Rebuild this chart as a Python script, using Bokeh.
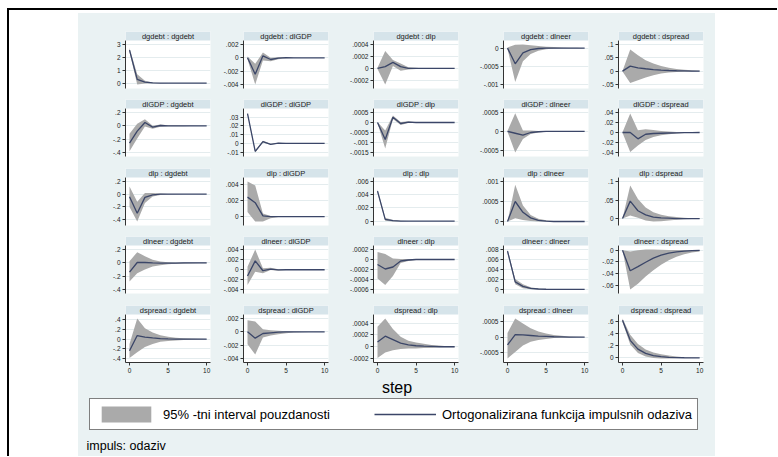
from bokeh.plotting import figure
from bokeh.layouts import row, column
from bokeh.models import Range1d, FixedTicker, BoxAnnotation, Label, Legend, LegendItem, Spacer
from bokeh.embed import file_html
from bokeh.resources import INLINE

# ---------------- data ----------------
steps = [0, 1, 2, 3, 4, 5, 6, 7, 8, 9, 10]
variables = ["dgdebt", "dlGDP", "dlp", "dlneer", "dspread"]
x_ticks = [0, 5, 10]
x_tick_labels = ["0", "5", "10"]

# impulse dgdebt
irf_dgdebt_dgdebt = [2.57, 0.30, 0.08, 0.02, 0.005, 0.001, 0, 0, 0, 0, 0]
lo_dgdebt_dgdebt = [2.42, -0.10, -0.03, -0.01, -0.004, -0.001, 0, 0, 0, 0, 0]
hi_dgdebt_dgdebt = [2.72, 0.70, 0.20, 0.06, 0.02, 0.005, 0.001, 0, 0, 0, 0]
yt_dgdebt_dgdebt = [0, 1, 2, 3]
yl_dgdebt_dgdebt = ["0", "1", "2", "3"]

irf_dgdebt_dlGDP = [0, -0.00245, 0.0003, -0.00025, -0.00005, 0.00002, 0, 0, 0, 0, 0]
lo_dgdebt_dlGDP = [-0.0002, -0.0040, -0.0004, -0.0005, -0.0002, -0.00005, -0.00002, 0, 0, 0, 0]
hi_dgdebt_dlGDP = [0.0002, -0.0009, 0.0008, 0.0, 0.0001, 0.00008, 0.00002, 0, 0, 0, 0]
yt_dgdebt_dlGDP = [-0.004, -0.002, 0, 0.002]
yl_dgdebt_dlGDP = ["-.004", "-.002", "0", ".002"]

irf_dgdebt_dlp = [0, 0.00003, 0.0001, 0.00003, 0.0, 0, 0, 0, 0, 0, 0]
lo_dgdebt_dlp = [-0.00001, -0.00027, 0.00004, -0.00004, -0.00002, -0.00001, 0, 0, 0, 0, 0]
hi_dgdebt_dlp = [0.00001, 0.00029, 0.00014, 0.00008, 0.00002, 0.00001, 0, 0, 0, 0, 0]
yt_dgdebt_dlp = [-0.0002, 0, 0.0002, 0.0004]
yl_dgdebt_dlp = ["-.0002", "0", ".0002", ".0004"]

irf_dgdebt_dlneer = [0, -0.00043, -0.00013, -0.00004, -0.00001, 0, 0, 0, 0, 0, 0]
lo_dgdebt_dlneer = [-0.00002, -0.00093, -0.00036, -0.00016, -0.00007, -0.00003, -0.00001, 0, 0, 0, 0]
hi_dgdebt_dlneer = [0.00002, 0.00009, 0.0001, 0.00008, 0.00006, 0.00004, 0.00003, 0.00002, 0.00001, 0.00001, 0]
yt_dgdebt_dlneer = [-0.001, -0.0005, 0]
yl_dgdebt_dlneer = ["-.001", "-.0005", "0"]

irf_dgdebt_dspread = [0, 0.019, 0.0125, 0.009, 0.006, 0.004, 0.0025, 0.0015, 0.001, 0.0005, 0.0002]
lo_dgdebt_dspread = [-0.001, -0.044, -0.034, -0.024, -0.015, -0.009, -0.005, -0.003, -0.002, -0.001, -0.0005]
hi_dgdebt_dspread = [0.001, 0.081, 0.060, 0.041, 0.029, 0.019, 0.0125, 0.008, 0.005, 0.003, 0.002]
yt_dgdebt_dspread = [-0.05, 0, 0.05, 0.1]
yl_dgdebt_dspread = ["-.05", "0", ".05", ".1"]

# impulse dlGDP
irf_dlGDP_dgdebt = [-0.26, -0.08, 0.05, -0.02, 0.005, 0.0, 0, 0, 0, 0, 0]
lo_dlGDP_dgdebt = [-0.38, -0.19, -0.01, -0.045, -0.012, -0.008, -0.006, -0.005, -0.004, -0.002, -0.001]
hi_dlGDP_dgdebt = [-0.12, 0.03, 0.10, 0.0, 0.02, 0.01, 0.007, 0.005, 0.004, 0.002, 0.001]
yt_dlGDP_dgdebt = [-0.4, -0.2, 0, 0.2]
yl_dlGDP_dgdebt = ["-.4", "-.2", "0", ".2"]

irf_dlGDP_dlGDP = [0.034, -0.0093, 0.0019, -0.0011, 0.0002, 0, 0, 0, 0, 0, 0]
lo_dlGDP_dlGDP = [0.0328, -0.0105, 0.0010, -0.0017, -0.0002, -0.0001, 0, 0, 0, 0, 0]
hi_dlGDP_dlGDP = [0.0352, -0.0081, 0.0028, -0.0005, 0.0006, 0.0001, 0, 0, 0, 0, 0]
yt_dlGDP_dlGDP = [-0.01, 0, 0.01, 0.02, 0.03]
yl_dlGDP_dlGDP = ["-.01", "0", ".01", ".02", ".03"]

irf_dlGDP_dlp = [0, -0.00085, 0.00026, -0.00005, 0.00002, 0, 0, 0, 0, 0, 0]
lo_dlGDP_dlp = [-0.00003, -0.0013, 0.00017, -0.00012, -0.00002, -0.00001, 0, 0, 0, 0, 0]
hi_dlGDP_dlp = [0.00003, -0.0004, 0.00035, 0.00002, 0.00006, 0.00001, 0, 0, 0, 0, 0]
yt_dlGDP_dlp = [-0.0015, -0.001, -0.0005, 0, 0.0005]
yl_dlGDP_dlp = ["-.0015", "-.001", "-.0005", "0", ".0005"]

irf_dlGDP_dlneer = [0, -0.00005, -0.0001, -0.00003, -0.00001, 0, 0, 0, 0, 0, 0]
lo_dlGDP_dlneer = [-0.00001, -0.00056, -0.0002, -0.00007, -0.00003, -0.00001, 0, 0, 0, 0, 0]
hi_dlGDP_dlneer = [0.00001, 0.00048, 0.00002, 0.00002, 0.00001, 0.00001, 0, 0, 0, 0, 0]
yt_dlGDP_dlneer = [-0.0005, 0, 0.0005]
yl_dlGDP_dlneer = ["-.0005", "0", ".0005"]

irf_dlGDP_dspread = [0, 0.0, -0.0127, -0.0035, -0.002, -0.0015, -0.001, -0.0006, -0.0003, -0.0001, 0]
lo_dlGDP_dspread = [-0.0005, -0.039, -0.026, -0.015, -0.009, -0.0055, -0.0035, -0.002, -0.0012, -0.0006, -0.0003]
hi_dlGDP_dspread = [0.0005, 0.038, 0.0045, 0.0065, 0.005, 0.003, 0.002, 0.0012, 0.0007, 0.0004, 0.0002]
yt_dlGDP_dspread = [-0.04, -0.02, 0, 0.02, 0.04]
yl_dlGDP_dspread = ["-.04", "-.02", "0", ".02", ".04"]

# impulse dlp
irf_dlp_dgdebt = [-0.04, -0.30, -0.05, -0.01, 0.0, 0, 0, 0, 0, 0, 0]
lo_dlp_dgdebt = [-0.20, -0.43, -0.14, -0.035, -0.012, -0.005, -0.002, 0, 0, 0, 0]
hi_dlp_dgdebt = [0.12, -0.12, 0.02, 0.02, 0.01, 0.005, 0.002, 0, 0, 0, 0]
yt_dlp_dgdebt = [-0.4, -0.2, 0, 0.2]
yl_dlp_dgdebt = ["-.4", "-.2", "0", ".2"]

irf_dlp_dlGDP = [0.00245, 0.00175, 0.0001, 0.0, 0, 0, 0, 0, 0, 0, 0]
lo_dlp_dlGDP = [0.0006, -0.0006, -0.0006, -0.0002, -0.00005, 0, 0, 0, 0, 0, 0]
hi_dlp_dlGDP = [0.0044, 0.0039, 0.0004, 0.0001, 0.00005, 0, 0, 0, 0, 0, 0]
yt_dlp_dlGDP = [0, 0.002, 0.004]
yl_dlp_dlGDP = ["0", ".002", ".004"]

irf_dlp_dlp = [0.00453, 0.00025, 0.00005, 0, 0, 0, 0, 0, 0, 0, 0]
lo_dlp_dlp = [0.0043, 0.00005, -0.00007, -0.00002, 0, 0, 0, 0, 0, 0, 0]
hi_dlp_dlp = [0.0048, 0.0005, 0.00015, 0.00003, 0, 0, 0, 0, 0, 0, 0]
yt_dlp_dlp = [0, 0.002, 0.004, 0.006]
yl_dlp_dlp = ["0", ".002", ".004", ".006"]

irf_dlp_dlneer = [0, 0.0005, 0.00023, 0.00009, 0.00003, 0.00001, 0, 0, 0, 0, 0]
lo_dlp_dlneer = [0, 0.00008, 0.00004, 0.00001, 0.0, 0, 0, 0, 0, 0, 0]
hi_dlp_dlneer = [0, 0.00092, 0.0004, 0.00016, 0.00007, 0.00003, 0.00001, 0, 0, 0, 0]
yt_dlp_dlneer = [0, 0.0005, 0.001]
yl_dlp_dlneer = ["0", ".0005", ".001"]

irf_dlp_dspread = [0, 0.047, 0.021, 0.01, 0.004, 0.002, 0.001, 0.0, 0, 0, 0]
lo_dlp_dspread = [0, 0.008, 0.002, -0.005, -0.008, -0.007, -0.005, -0.003, -0.002, -0.001, -0.0005]
hi_dlp_dspread = [0, 0.089, 0.053, 0.030, 0.017, 0.010, 0.006, 0.004, 0.002, 0.001, 0.0005]
yt_dlp_dspread = [0, 0.05, 0.1]
yl_dlp_dspread = ["0", ".05", ".1"]

# impulse dlneer
irf_dlneer_dgdebt = [-0.14, 0.005, 0.005, -0.002, -0.004, -0.004, -0.003, -0.002, -0.001, 0.0, 0.0]
lo_dlneer_dgdebt = [-0.28, -0.155, -0.10, -0.055, -0.035, -0.022, -0.015, -0.012, -0.01, -0.008, -0.006]
hi_dlneer_dgdebt = [0.025, 0.16, 0.10, 0.045, 0.02, 0.01, 0.006, 0.006, 0.006, 0.006, 0.005]
yt_dlneer_dgdebt = [-0.4, -0.2, 0, 0.2]
yl_dlneer_dgdebt = ["-.4", "-.2", "0", ".2"]

irf_dlneer_dlGDP = [-0.00127, 0.0018, -0.0002, 0.00013, -0.00003, 0, 0, 0, 0, 0, 0]
lo_dlneer_dlGDP = [-0.0031, -0.0004, -0.0007, -0.00005, -0.0002, -0.00005, 0, 0, 0, 0, 0]
hi_dlneer_dlGDP = [0.0006, 0.0041, 0.0003, 0.0004, 0.0001, 0.00005, 0, 0, 0, 0, 0]
yt_dlneer_dlGDP = [-0.004, -0.002, 0, 0.002, 0.004]
yl_dlneer_dlGDP = ["-.004", "-.002", "0", ".002", ".004"]

irf_dlneer_dlp = [-0.0001, -0.00019, -0.00015, -0.00003, -0.00001, 0, 0, 0, 0, 0, 0]
lo_dlneer_dlp = [-0.00038, -0.00051, -0.00033, -0.00007, -0.00003, -0.00001, 0, 0, 0, 0, 0]
hi_dlneer_dlp = [0.00015, 0.00011, 0.00002, 0.00001, 0.00001, 0, 0, 0, 0, 0, 0]
yt_dlneer_dlp = [-0.0006, -0.0004, -0.0002, 0, 0.0002]
yl_dlneer_dlp = ["-.0006", "-.0004", "-.0002", "0", ".0002"]

irf_dlneer_dlneer = [0.00767, 0.0015, 0.0006, 0.0002, 0.00007, 0.00002, 0, 0, 0, 0, 0]
lo_dlneer_dlneer = [0.0073, 0.0010, 0.0002, 0.0, -0.00003, -0.00002, -0.00001, 0, 0, 0, 0]
hi_dlneer_dlneer = [0.0080, 0.0021, 0.0010, 0.0004, 0.00016, 0.00006, 0.00003, 0.00001, 0, 0, 0]
yt_dlneer_dlneer = [0, 0.002, 0.004, 0.006, 0.008]
yl_dlneer_dlneer = ["0", ".002", ".004", ".006", ".008"]

irf_dlneer_dspread = [0, -0.035, -0.028, -0.0205, -0.0135, -0.0085, -0.005, -0.003, -0.0017, -0.0008, -0.0003]
lo_dlneer_dspread = [0, -0.067, -0.057, -0.045, -0.034, -0.025, -0.017, -0.011, -0.007, -0.004, -0.002]
hi_dlneer_dspread = [0, -0.002, 0.0, 0.001, 0.0012, 0.0008, 0.0005, 0.0003, 0.0002, 0.0001, 0.0]
yt_dlneer_dspread = [-0.06, -0.04, -0.02, 0]
yl_dlneer_dspread = ["-.06", "-.04", "-.02", "0"]

# impulse dspread
irf_dspread_dgdebt = [-0.24, 0.076, 0.042, 0.026, 0.014, 0.007, 0.003, 0.001, 0.0, 0.0, 0.0]
lo_dspread_dgdebt = [-0.39, -0.27, -0.16, -0.10, -0.055, -0.035, -0.025, -0.018, -0.012, -0.008, -0.005]
hi_dspread_dgdebt = [-0.10, 0.43, 0.23, 0.14, 0.083, 0.05, 0.033, 0.022, 0.015, 0.01, 0.007]
yt_dspread_dgdebt = [-0.4, -0.2, 0, 0.2, 0.4]
yl_dspread_dgdebt = ["-.4", "-.2", "0", ".2", ".4"]

irf_dspread_dlGDP = [0, -0.00095, -0.00025, -0.00015, -0.00005, -0.00002, 0, 0, 0, 0, 0]
lo_dspread_dlGDP = [-0.00185, -0.0034, -0.00085, -0.00055, -0.00035, -0.0002, -0.0001, -0.00005, -0.00002, -0.00001, 0]
hi_dspread_dlGDP = [0.00175, 0.00155, 0.0004, 0.00025, 0.00015, 0.0001, 0.00005, 0.00003, 0.00001, 0.00001, 0]
yt_dspread_dlGDP = [-0.004, -0.002, 0, 0.002]
yl_dspread_dlGDP = ["-.004", "-.002", "0", ".002"]

irf_dspread_dlp = [0.00008, 0.00018, 0.00012, 0.00006, 0.00003, 0.000017, 0.00001, 0.000005, 0.0, 0.0, 0.0]
lo_dspread_dlp = [-0.00019, -0.0001, -0.00006, -0.00004, -0.00003, -0.00003, -0.00002, -0.00002, -0.00001, -0.00001, -0.00001]
hi_dspread_dlp = [0.00034, 0.00048, 0.0003, 0.00017, 0.0001, 0.00007, 0.00005, 0.00003, 0.00002, 0.00001, 0.00001]
yt_dspread_dlp = [-0.0002, 0, 0.0002, 0.0004]
yl_dspread_dlp = ["-.0002", "0", ".0002", ".0004"]

irf_dspread_dlneer = [-0.00025, 0.00008, 0.00007, 0.00005, 0.00003, 0.00002, 0.00001, 0.000005, 0, 0, 0]
lo_dspread_dlneer = [-0.00068, -0.00047, -0.00027, -0.00015, -0.00009, -0.00006, -0.00003, -0.00002, -0.00001, 0, 0]
hi_dspread_dlneer = [0.00013, 0.00059, 0.00043, 0.00028, 0.00018, 0.00011, 0.00007, 0.00004, 0.00002, 0.00001, 0]
yt_dspread_dlneer = [-0.0005, 0, 0.0005]
yl_dspread_dlneer = ["-.0005", "0", ".0005"]

irf_dspread_dspread = [0.62, 0.29, 0.145, 0.075, 0.038, 0.02, 0.01, 0.005, 0.002, 0.001, 0.0]
lo_dspread_dspread = [0.59, 0.22, 0.08, 0.025, 0.0, -0.01, -0.01, -0.006, -0.003, -0.002, -0.001]
hi_dspread_dspread = [0.65, 0.38, 0.23, 0.14, 0.09, 0.06, 0.04, 0.025, 0.01, 0.006, 0.003]
yt_dspread_dspread = [0, 0.2, 0.4, 0.6]
yl_dspread_dspread = ["0", ".2", ".4", ".6"]

legend_band_label = "95% -tni interval pouzdanosti"
legend_line_label = "Ortogonalizirana funkcija impulsnih odaziva"
x_title = "step"
note_text = "impuls: odaziv"

# ---------------- style / layout ----------------
BG = "#eaf2f3"
TITLE_BG = "#d6e4ea"
BAND = "#aaaaaa"
LINE = "#3b4668"
GRID = "#e4ecee"
AXIS = "#333333"
FONT = "Liberation Sans"

FRAME_W = 85
BAND_H = 9
PLOT_H = 48
COL_LEFT = [47, 23, 28, 27, 22]
COL_RIGHT = [10, 17, 18, 8, 12]
ROW_TOP = [18, 5, 6, 5, 6]
ROW_BOTTOM = [6, 6, 6, 6, 16]
X0, X1 = -0.52, 10.5


def series(prefix, imp, resp):
    return globals()[f"{prefix}_{imp}_{resp}"]


def style_axis(ax):
    ax.major_tick_in = 0
    ax.major_tick_out = 3
    ax.minor_tick_line_color = None
    ax.major_label_standoff = 2
    ax.axis_line_color = AXIS
    ax.major_tick_line_color = AXIS
    ax.major_label_text_font = FONT
    ax.major_label_text_font_size = "6.5px"
    ax.major_label_text_color = "#222222"


def make_panel(i, j):
    imp, resp = variables[i], variables[j]
    irf = series("irf", imp, resp)
    lo = series("lo", imp, resp)
    hi = series("hi", imp, resp)
    yt = series("yt", imp, resp)
    yl = series("yl", imp, resp)
    vmin = min(min(lo), min(irf), min(yt))
    vmax = max(max(hi), max(irf), max(yt))
    pad = 0.1 * (vmax - vmin)
    y0 = vmin - pad
    ytop = vmax + pad
    ytot = ytop + (ytop - y0) * BAND_H / PLOT_H
    last = (i == len(variables) - 1)
    p = figure(width=COL_LEFT[j] + FRAME_W + COL_RIGHT[j],
               height=ROW_TOP[i] + BAND_H + PLOT_H + ROW_BOTTOM[i],
               x_range=Range1d(X0, X1), y_range=Range1d(y0, ytot),
               output_backend="svg", toolbar_location=None, title=None,
               x_axis_location="below" if last else None,
               min_border_left=COL_LEFT[j], min_border_right=COL_RIGHT[j],
               min_border_top=ROW_TOP[i], min_border_bottom=ROW_BOTTOM[i],
               styles={"background-color": BG})
    p.background_fill_color = "white"
    p.border_fill_color = BG
    p.outline_line_color = None

    p.varea(x=steps, y1=lo, y2=hi, fill_color=BAND, fill_alpha=1)
    p.line(x=steps, y=irf, line_color=LINE, line_width=1.3)

    p.add_layout(BoxAnnotation(left=X0, right=X1, bottom=ytop, top=ytot,
                               fill_color=TITLE_BG, fill_alpha=1, line_color=None))
    p.add_layout(Label(x=(X0 + X1) / 2, y=(ytop + ytot) / 2, text=f"{imp} : {resp}",
                       text_align="center", text_baseline="middle",
                       text_font=FONT, text_font_size="7.5px", text_color="#222222"))

    yax = p.yaxis[0]
    yax.ticker = FixedTicker(ticks=yt)
    yax.major_label_overrides = dict(zip(yt, yl))
    yax.bounds = (y0, ytop)
    style_axis(yax)
    p.ygrid.ticker = FixedTicker(ticks=yt)
    p.ygrid.grid_line_color = GRID
    p.xgrid.visible = False
    if last:
        xax = p.xaxis[0]
        xax.ticker = FixedTicker(ticks=x_ticks)
        xax.major_label_overrides = dict(zip(x_ticks, x_tick_labels))
        style_axis(xax)
    return p


grid_rows = [row(*[make_panel(i, j) for j in range(5)], spacing=0,
                 styles={"background-color": BG}) for i in range(5)]

# bottom area: axis title, legend, note
MAIN_W = sum(COL_LEFT) + sum(COL_RIGHT) + 5 * FRAME_W
BOT_H = 78
pb = figure(width=MAIN_W, height=BOT_H, x_range=Range1d(0, MAIN_W), y_range=Range1d(0, BOT_H),
            output_backend="svg", toolbar_location=None, title=None,
            x_axis_location=None, y_axis_location=None, min_border=0,
            styles={"background-color": BG})
pb.background_fill_color = BG
pb.border_fill_color = BG
pb.outline_line_color = None
pb.xgrid.visible = False
pb.ygrid.visible = False
# legend-only renderers, placed outside the visible range
r_band = pb.varea(x=[-20, -10], y1=[-20, -20], y2=[-10, -10], fill_color=BAND, fill_alpha=1)
r_line = pb.line(x=[-20, -10], y=[-20, -20], line_color=LINE, line_width=1.5)
legend = Legend(items=[LegendItem(label=legend_band_label, renderers=[r_band]),
                       LegendItem(label=legend_line_label, renderers=[r_line])],
                location=(11, 26), orientation="horizontal",
                glyph_width=62, glyph_height=20, padding=5, spacing=0,
                label_standoff=6, label_width=211,
                label_text_font=FONT, label_text_font_size="13px", label_text_color="black",
                border_line_color="black", border_line_width=1,
                background_fill_color="white", background_fill_alpha=1)
pb.add_layout(legend)
pb.add_layout(Label(x=MAIN_W / 2, y=69, text=x_title, text_align="center", text_baseline="middle",
                    text_font=FONT, text_font_size="16px", text_color="black"))
pb.add_layout(Label(x=8, y=11, text=note_text, text_align="left", text_baseline="middle",
                    text_font=FONT, text_font_size="12.5px", text_color="black"))

main = column(Spacer(width=MAIN_W, height=3, styles={"background-color": "white"}),
              *grid_rows, pb, spacing=0, styles={"background-color": BG})


def solid(w, h, color):
    f = figure(width=w, height=h, output_backend="svg", toolbar_location=None, title=None,
               x_axis_location=None, y_axis_location=None, min_border=0,
               styles={"background-color": color})
    f.background_fill_color = color
    f.border_fill_color = color
    f.outline_line_color = None
    f.xgrid.visible = False
    f.ygrid.visible = False
    return f


PAGE_W = 777
PAGE_H = 456
TOP_GAP = 8
LEFT_GAP = 7
inner_w = PAGE_W - LEFT_GAP
inner_h = PAGE_H - TOP_GAP - 2
page = column(
    Spacer(width=PAGE_W, height=TOP_GAP),
    row(Spacer(width=LEFT_GAP, height=PAGE_H - TOP_GAP),
        column(solid(inner_w, 2, "black"),
               row(solid(2, inner_h, "black"), Spacer(width=69, height=inner_h), main,
                   Spacer(width=inner_w - 2 - 69 - MAIN_W, height=inner_h), spacing=0),
               spacing=0),
        spacing=0),
    spacing=0)

open("out.html", "w").write(file_html(page, INLINE))
